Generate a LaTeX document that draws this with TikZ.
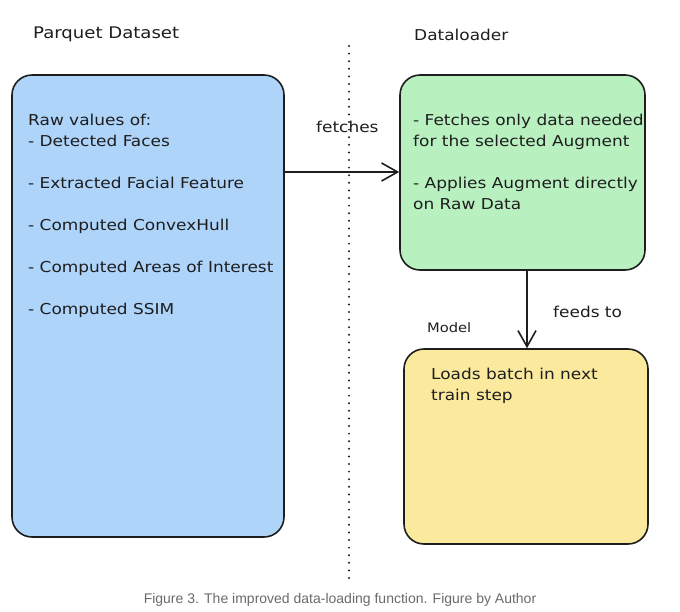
\documentclass[tikz,border=0pt]{standalone}
\usepackage{fontspec}
\setmainfont{DejaVu Sans}[FakeStretch=1.13]
\newfontfamily\capfont{Liberation Sans}
\usetikzlibrary{arrows.meta}
\definecolor{ink}{HTML}{1E1E1E}
\definecolor{bluefill}{HTML}{AED4FA}
\definecolor{greenfill}{HTML}{B8F0C0}
\definecolor{yellowfill}{HTML}{FBEA9E}
\definecolor{capgray}{HTML}{6B6B6B}
\tikzset{
  box/.style={draw=ink, line width=1.6pt, rounded corners=20pt, inner sep=0pt},
  body/.style={anchor=north west, align=left, inner sep=0pt, text=ink, font=\fontsize{15}{21}\selectfont},
  lbl/.style={inner sep=0pt, text=ink, font=\fontsize{15}{21}\selectfont},
  conn/.style={draw=ink, line width=1.6pt, -{Straight Barb[length=16pt,width=18pt,line width=1.6pt]}},
  sep/.style={draw=ink, line width=2.2pt, line cap=round, dash pattern=on 0pt off 7.6pt}
}
\begin{document}
\begin{tikzpicture}[x=1pt,y=-1pt]
\useasboundingbox[fill=white] (0,0) rectangle (680,611);
% boxes
\node[box, fill=bluefill, minimum width=272pt, minimum height=462pt] (parquet) at (148,306) {};
\node[box, fill=greenfill, minimum width=245pt, minimum height=195pt] (loader) at (522.5,172.5) {};
\node[box, fill=yellowfill, minimum width=244pt, minimum height=195pt] (model) at (526,446.5) {};
% separator
\coordinate (septop) at (349,46);
\coordinate (sepbot) at (349,580);
\draw[sep] (septop) -- (sepbot);
% headings
\node[lbl, anchor=west, font=\fontsize{16}{21}\selectfont] (hparquet) at (33,34) {Parquet Dataset};
\node[lbl, anchor=west] (hloader) at (414,35) {Dataloader};
\node[lbl, anchor=west, font=\fontsize{13}{16}\selectfont] (hmodel) at (427,328) {Model};
% box texts
\node[body] (tparquet) at (28,114) {Raw values of:\\
- Detected Faces\\[21pt]
- Extracted Facial Feature\\[21pt]
- Computed ConvexHull\\[21pt]
- Computed Areas of Interest\\[21pt]
- Computed SSIM};
\node[body] (tloader) at (413,114) {- Fetches only data needed\\
for the selected Augment\\[21pt]
- Applies Augment directly\\
on Raw Data};
\node[body] (tmodel) at (431,368) {Loads batch in next\\
train step};
% connectors
\draw[conn] (parquet.east |- 0,172) -- (loader.west |- 0,172);
\node[lbl, anchor=west] (lfetch) at (316,127) {fetches};
\draw[conn] (loader.south -| 527,0) -- (model.north -| 527,0);
\node[lbl, anchor=west] (lfeed) at (553,312) {feeds to};
% caption
\node[inner sep=0pt, text=capgray, font=\capfont\fontsize{14}{16}\selectfont] (caption) at (340,600) {Figure 3. The improved data-loading function. Figure by Author};
\end{tikzpicture}
\end{document}
